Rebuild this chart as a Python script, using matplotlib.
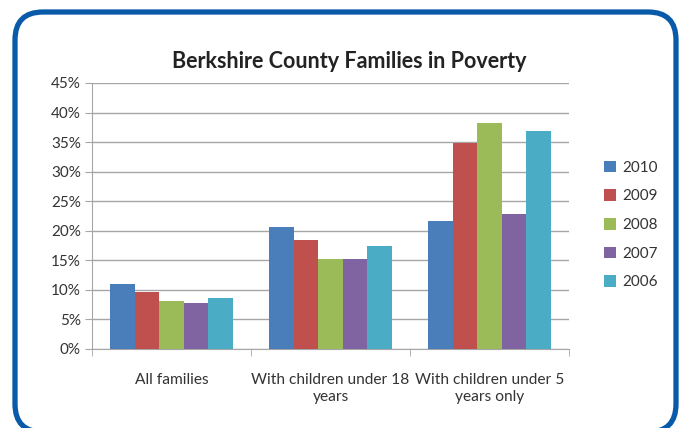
import numpy as np
import matplotlib.pyplot as plt
from matplotlib.patches import FancyBboxPatch

plt.rcParams['font.family'] = ['Lato', 'DejaVu Sans']

categories = ["All families", "With children under 18\nyears", "With children under 5\nyears only"]
years = ["2010", "2009", "2008", "2007", "2006"]
colors = ["#4A7EBB", "#C0504D", "#9BBB59", "#8064A2", "#4BACC6"]
values = {
    "2010": [11.0, 20.6, 21.7],
    "2009": [9.7, 18.4, 34.9],
    "2008": [8.1, 15.2, 38.2],
    "2007": [7.8, 15.2, 22.8],
    "2006": [8.6, 17.4, 36.9],
}
yticks = [0, 5, 10, 15, 20, 25, 30, 35, 40, 45]

W, H = 687, 428
fig = plt.figure(figsize=(W / 100, H / 100), dpi=100)
# rounded blue frame, drawn in pixel coords (bottom runs just past the edge)
frame = FancyBboxPatch((15, H - 432), 661, 420,
                       boxstyle="round,pad=0,rounding_size=28",
                       transform=None, fill=False,
                       edgecolor="#0A5AAA", linewidth=3.8)
fig.patches.append(frame)

ax = fig.add_axes([92 / W, 1 - 349 / H, (569 - 92) / W, (349 - 83) / H])
x = np.arange(len(categories))
w = 0.154
for i, yr in enumerate(years):
    ax.bar(x + (i - 2) * w, values[yr], w, color=colors[i], label=yr, zorder=3)

ax.set_xlim(-0.5, 2.5)
ax.set_ylim(0, 45)
ax.set_yticks(yticks)
ax.set_yticklabels([f"{t}%" for t in yticks], fontsize=11, color="#333333")
ax.yaxis.grid(True, color="#A6A6A6", linewidth=1, zorder=0)
ax.set_xticks(x)
ax.set_xticklabels(categories, fontsize=11.2, color="#333333", linespacing=1.3)
ax.set_xticks([-0.5, 0.5, 1.5, 2.5], minor=True)
ax.tick_params(axis='x', which='major', length=0, pad=17)
ax.tick_params(axis='x', which='minor', length=5, color="#A6A6A6", direction='out')
ax.tick_params(axis='y', length=5, color="#A6A6A6", direction='out', pad=3)
for s in ["top", "right"]:
    ax.spines[s].set_visible(False)
ax.spines["left"].set_color("#A6A6A6")
ax.spines["bottom"].set_color("#A6A6A6")

fig.text(349 / W, 1 - 62 / H, "Berkshire County Families in Poverty",
         ha='center', va='center', fontsize=15.5, fontweight='bold', color="#222222")

ax.legend(loc='center left', bbox_to_anchor=(590 / W, 1 - 225 / H),
          bbox_transform=fig.transFigure, frameon=False, fontsize=11,
          handlelength=0.8, handleheight=0.8, handletextpad=0.4, labelspacing=0.95,
          labelcolor="#333333")

fig.savefig("out.png", dpi=100)
